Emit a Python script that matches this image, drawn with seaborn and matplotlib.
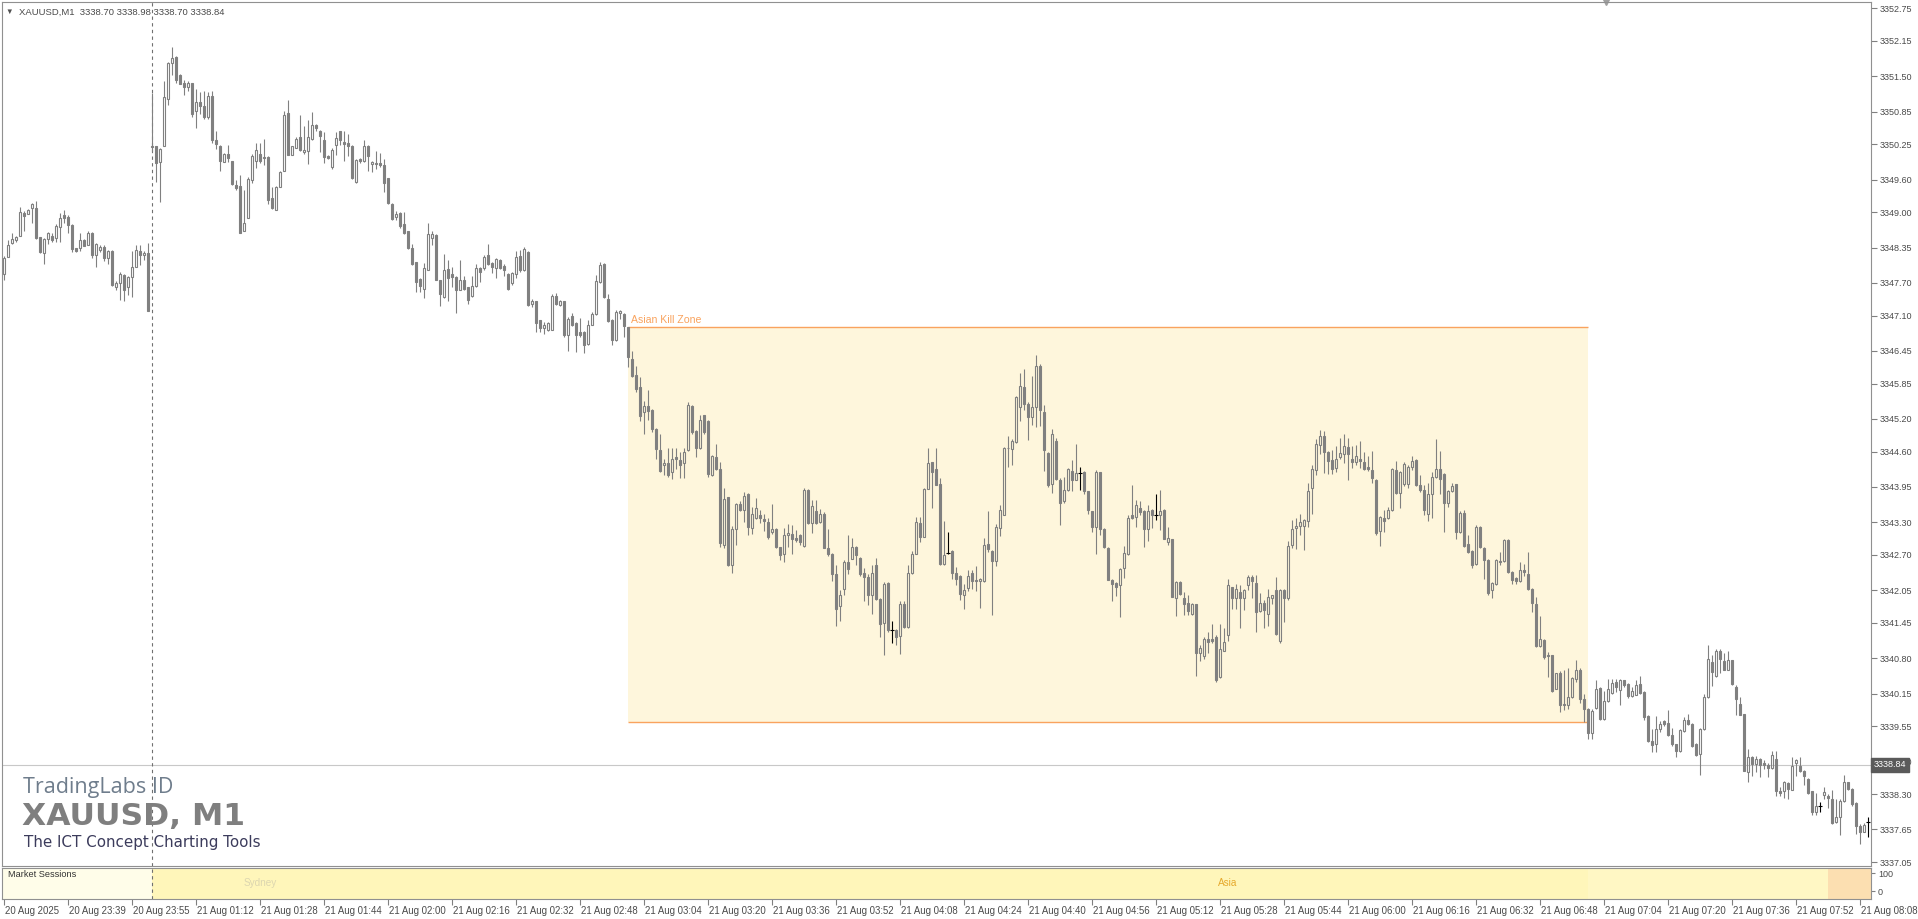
import numpy as np
import pandas as pd
import matplotlib
matplotlib.use('Agg')
import matplotlib.pyplot as plt
import matplotlib.transforms as mtransforms
import seaborn as sns

### XAUUSD M1 candles (one row of 10 bars per line)
opens = [
    3347.86, 3348.17, 3348.44, 3348.49, 3348.57, 3348.99, 3348.97, 3349.07, 3349.07, 3348.54,
    3348.25, 3348.51, 3348.57, 3348.52, 3348.73, 3348.94, 3348.92, 3348.77, 3348.34, 3348.35,
    3348.49, 3348.40, 3348.62, 3348.22, 3348.30, 3348.36, 3348.16, 3348.29, 3347.62, 3347.70,
    3347.84, 3347.63, 3347.80, 3348.00, 3348.28, 3348.22, 3348.25, 3350.22, 3350.21, 3349.92,
    3350.21, 3351.09, 3351.75, 3351.85, 3351.53, 3351.38, 3351.31, 3351.37, 3350.86, 3351.03,
    3350.95, 3350.75, 3351.13, 3350.32, 3350.21, 3349.92, 3350.08, 3349.94, 3349.51, 3349.49,
    3348.66, 3348.89, 3349.59, 3349.95, 3350.08, 3350.02, 3350.02, 3349.26, 3349.05, 3349.47,
    3349.75, 3350.82, 3350.05, 3350.19, 3350.38, 3350.10, 3350.13, 3350.35, 3350.61, 3350.50,
    3350.32, 3350.03, 3349.83, 3350.24, 3350.49, 3350.29, 3350.27, 3350.22, 3349.56, 3349.97,
    3349.94, 3350.22, 3349.88, 3349.91, 3349.90, 3349.86, 3349.63, 3349.16, 3348.91, 3348.99,
    3348.78, 3348.65, 3348.35, 3348.08, 3347.78, 3347.59, 3347.94, 3348.52, 3348.59, 3347.75,
    3347.45, 3347.96, 3347.86, 3347.80, 3347.57, 3347.76, 3347.62, 3347.46, 3347.65, 3347.98,
    3347.97, 3348.21, 3348.06, 3347.98, 3348.13, 3348.01, 3347.86, 3347.70, 3347.86, 3348.19,
    3347.94, 3348.26, 3347.31, 3347.36, 3347.01, 3346.87, 3346.83, 3346.83, 3347.46, 3347.30,
    3347.36, 3346.74, 3347.09, 3346.97, 3346.79, 3346.79, 3346.57, 3346.93, 3347.13, 3347.71,
    3348.05, 3347.41, 3347.02, 3346.65, 3347.14, 3347.13, 3346.89, 3346.30, 3346.00, 3345.78,
    3345.33, 3345.44, 3345.36, 3345.01, 3344.63, 3344.35, 3344.39, 3344.23, 3344.50, 3344.44,
    3344.39, 3344.62, 3345.44, 3344.98, 3344.66, 3345.27, 3345.16, 3344.17, 3344.49, 3344.28,
    3342.88, 3343.76, 3342.51, 3343.17, 3343.64, 3343.52, 3343.81, 3343.20, 3343.37, 3343.44,
    3343.36, 3343.31, 3343.12, 3343.17, 3342.84, 3342.71, 3343.07, 3343.09, 3343.01, 3343.07,
    3342.86, 3343.89, 3343.28, 3343.50, 3343.31, 3343.46, 3342.83, 3342.72, 3342.34, 3341.76,
    3342.07, 3342.57, 3342.63, 3342.84, 3342.64, 3342.36, 3342.29, 3341.96, 3342.51, 3341.88,
    3341.45, 3342.19, 3341.31, 3341.31, 3341.21, 3341.80, 3341.37, 3342.36, 3342.72, 3343.28,
    3343.03, 3343.91, 3344.40, 3344.28, 3344.01, 3342.53, 3342.74, 3342.77, 3342.37, 3342.31,
    3341.96, 3342.09, 3342.37, 3342.24, 3342.22, 3342.22, 3342.90, 3342.77, 3342.58, 3343.20,
    3343.44, 3344.66, 3344.65, 3344.77, 3345.41, 3345.79, 3345.48, 3345.24, 3345.41, 3346.17,
    3345.33, 3344.58, 3344.01, 3344.79, 3344.08, 3343.69, 3343.89, 3344.24, 3344.08, 3344.20,
    3344.23, 3343.87, 3343.50, 3343.21, 3344.22, 3343.17, 3342.83, 3342.24, 3342.18, 3342.14,
    3342.45, 3342.71, 3343.43, 3343.39, 3343.57, 3343.50, 3343.17, 3343.52, 3343.43, 3343.43,
    3343.52, 3342.93, 3342.99, 3341.91, 3342.20, 3341.90, 3341.81, 3341.62, 3341.79, 3340.90,
    3340.84, 3341.15, 3341.15, 3341.19, 3340.45, 3340.94, 3341.22, 3342.10, 3341.91, 3342.02,
    3341.91, 3342.14, 3342.30, 3342.18, 3341.67, 3341.82, 3341.62, 3341.90, 3342.05, 3341.11,
    3342.05, 3341.90, 3342.88, 3343.19, 3343.23, 3343.23, 3343.32, 3343.93, 3344.26, 3344.72,
    3344.89, 3344.60, 3344.44, 3344.29, 3344.49, 3344.55, 3344.68, 3344.46, 3344.41, 3344.46,
    3344.41, 3344.31, 3344.26, 3344.08, 3343.14, 3343.37, 3343.37, 3343.52, 3344.26, 3343.83,
    3344.00, 3344.00, 3344.31, 3344.44, 3343.98, 3343.89, 3343.46, 3343.82, 3344.14, 3344.28,
    3344.18, 3343.66, 3343.87, 3344.00, 3343.12, 3343.47, 3342.90, 3342.77, 3342.54, 3343.22,
    3342.83, 3342.60, 3342.05, 3342.17, 3342.58, 3342.58, 3342.98, 3342.39, 3342.28, 3342.22,
    3342.42, 3342.34, 3342.07, 3341.80, 3341.02, 3341.13, 3340.86, 3340.85, 3340.24, 3340.53,
    3339.96, 3339.93, 3340.08, 3340.42, 3340.59, 3340.04, 3339.86, 3339.43, 3339.88, 3340.25,
    3339.69, 3340.01, 3340.16, 3340.36, 3340.21, 3340.39, 3340.33, 3340.10, 3340.13, 3340.33,
    3340.18, 3339.73, 3339.28, 3339.23, 3339.50, 3339.64, 3339.61, 3339.38, 3339.22, 3339.10,
    3339.46, 3339.67, 3339.59, 3339.23, 3339.04, 3339.49, 3340.08, 3340.73, 3340.48, 3340.94,
    3340.75, 3340.59, 3340.76, 3340.27, 3339.96, 3339.77, 3338.70, 3338.98, 3338.85, 3338.94,
    3338.87, 3338.84, 3338.78, 3338.94, 3338.35, 3338.35, 3338.51, 3338.38, 3338.87, 3338.81,
    3338.73, 3338.58, 3338.35, 3337.97, 3338.08, 3338.29, 3338.27, 3338.21, 3337.78, 3337.87,
    3338.18, 3338.52, 3338.40, 3338.13, 3337.71, 3337.61, 3337.78,
]
highs = [
    3348.19, 3348.49, 3348.62, 3348.57, 3349.09, 3349.02, 3349.06, 3349.17, 3349.21, 3348.55,
    3348.52, 3348.63, 3348.61, 3348.78, 3348.98, 3349.05, 3348.95, 3348.78, 3348.35, 3348.61,
    3348.51, 3348.66, 3348.63, 3348.44, 3348.40, 3348.40, 3348.31, 3348.30, 3347.73, 3347.91,
    3347.86, 3347.82, 3348.28, 3348.40, 3348.40, 3348.28, 3348.43, 3351.19, 3350.22, 3350.18,
    3351.42, 3351.77, 3352.04, 3351.87, 3351.54, 3351.44, 3351.41, 3351.38, 3351.27, 3351.21,
    3351.23, 3351.21, 3351.23, 3350.50, 3350.23, 3350.09, 3350.23, 3349.95, 3349.60, 3349.69,
    3349.41, 3349.64, 3350.07, 3350.27, 3350.28, 3350.35, 3350.03, 3349.46, 3349.48, 3349.75,
    3350.87, 3351.07, 3350.22, 3350.38, 3350.78, 3350.58, 3350.70, 3350.85, 3350.62, 3350.52,
    3350.48, 3350.05, 3350.18, 3350.48, 3350.50, 3350.50, 3350.43, 3350.24, 3349.97, 3349.99,
    3350.32, 3350.24, 3349.95, 3350.13, 3350.09, 3349.97, 3349.63, 3349.17, 3349.03, 3349.00,
    3349.00, 3348.66, 3348.42, 3348.09, 3347.79, 3348.06, 3348.81, 3348.65, 3348.60, 3347.76,
    3348.23, 3348.13, 3348.00, 3347.82, 3348.13, 3347.82, 3347.63, 3347.82, 3348.05, 3348.00,
    3348.22, 3348.42, 3348.08, 3348.16, 3348.14, 3348.05, 3347.88, 3347.91, 3348.29, 3348.31,
    3348.36, 3348.28, 3347.41, 3347.37, 3347.02, 3346.98, 3346.99, 3347.49, 3347.51, 3347.39,
    3347.37, 3347.08, 3347.14, 3346.99, 3347.05, 3346.81, 3347.02, 3347.17, 3347.84, 3348.08,
    3348.06, 3347.50, 3347.04, 3347.21, 3347.21, 3347.14, 3346.89, 3346.44, 3346.18, 3345.97,
    3345.52, 3345.73, 3345.39, 3345.03, 3344.93, 3344.47, 3344.66, 3344.66, 3344.66, 3344.60,
    3344.66, 3345.51, 3345.46, 3345.00, 3345.28, 3345.28, 3345.18, 3344.54, 3344.74, 3344.40,
    3343.93, 3343.77, 3343.23, 3343.66, 3343.69, 3343.86, 3343.83, 3343.58, 3343.75, 3343.52,
    3343.46, 3343.37, 3343.64, 3343.20, 3342.85, 3343.20, 3343.26, 3343.25, 3343.15, 3343.09,
    3343.92, 3343.91, 3343.71, 3343.71, 3343.55, 3343.49, 3343.18, 3342.74, 3342.51, 3342.05,
    3342.60, 3343.06, 3343.01, 3342.87, 3342.66, 3342.45, 3342.34, 3342.51, 3342.64, 3341.90,
    3342.20, 3342.20, 3341.48, 3341.34, 3341.86, 3341.85, 3342.52, 3342.77, 3343.39, 3343.40,
    3343.92, 3344.66, 3344.41, 3344.66, 3344.12, 3343.32, 3343.12, 3342.79, 3342.48, 3342.33,
    3342.17, 3342.42, 3342.42, 3342.50, 3342.28, 3343.01, 3343.51, 3342.79, 3343.26, 3343.61,
    3344.69, 3344.89, 3344.83, 3345.62, 3346.05, 3346.12, 3345.51, 3345.98, 3346.38, 3346.21,
    3345.46, 3344.60, 3345.01, 3344.84, 3344.11, 3344.14, 3344.29, 3344.44, 3344.74, 3344.31,
    3344.24, 3343.88, 3343.51, 3344.26, 3344.23, 3343.19, 3342.84, 3342.25, 3342.20, 3342.46,
    3342.87, 3343.44, 3343.98, 3343.71, 3343.69, 3343.52, 3343.61, 3343.54, 3343.81, 3343.90,
    3343.54, 3343.22, 3343.00, 3342.22, 3342.22, 3342.01, 3341.96, 3341.82, 3341.80, 3341.04,
    3341.19, 3341.29, 3341.43, 3341.22, 3341.43, 3341.36, 3342.25, 3342.11, 3342.17, 3342.15,
    3342.07, 3342.33, 3342.33, 3342.33, 3342.00, 3341.87, 3342.08, 3341.97, 3342.30, 3342.08,
    3342.08, 3342.95, 3343.34, 3343.38, 3343.46, 3343.36, 3344.03, 3344.35, 3344.83, 3344.99,
    3344.98, 3344.61, 3344.63, 3344.71, 3344.84, 3344.92, 3344.84, 3344.71, 3344.72, 3344.79,
    3344.60, 3344.51, 3344.61, 3344.09, 3343.41, 3343.52, 3343.58, 3344.29, 3344.43, 3344.24,
    3344.40, 3344.36, 3344.51, 3344.46, 3344.17, 3343.98, 3344.03, 3344.22, 3344.83, 3344.61,
    3344.20, 3343.89, 3344.03, 3344.01, 3343.50, 3343.52, 3343.06, 3342.78, 3343.25, 3343.23,
    3342.84, 3342.62, 3342.20, 3342.63, 3342.76, 3343.00, 3342.99, 3342.40, 3342.30, 3342.56,
    3342.54, 3342.76, 3342.09, 3341.93, 3341.58, 3341.15, 3340.91, 3340.86, 3340.53, 3340.56,
    3340.59, 3340.61, 3340.45, 3340.76, 3340.61, 3340.15, 3339.88, 3339.86, 3340.39, 3340.27,
    3340.19, 3340.42, 3340.42, 3340.42, 3340.42, 3340.40, 3340.34, 3340.27, 3340.39, 3340.47,
    3340.19, 3339.75, 3339.50, 3339.74, 3339.64, 3339.66, 3339.84, 3339.51, 3339.23, 3339.50,
    3339.72, 3339.78, 3339.60, 3339.24, 3339.51, 3340.15, 3341.05, 3340.85, 3340.96, 3340.97,
    3340.90, 3340.94, 3340.77, 3340.31, 3340.09, 3339.78, 3339.13, 3339.00, 3339.00, 3338.96,
    3338.92, 3338.87, 3339.10, 3339.10, 3338.43, 3338.55, 3338.53, 3338.99, 3338.95, 3338.98,
    3338.75, 3338.59, 3338.36, 3338.32, 3338.15, 3338.43, 3338.30, 3338.37, 3338.21, 3338.21,
    3338.65, 3338.53, 3338.41, 3338.15, 3337.75, 3337.77, 3337.87,
]
lows = [
    3347.76, 3348.17, 3348.41, 3348.45, 3348.57, 3348.65, 3348.97, 3348.80, 3348.50, 3348.25,
    3348.05, 3348.41, 3348.45, 3348.45, 3348.45, 3348.81, 3348.62, 3348.27, 3348.27, 3348.28,
    3348.37, 3348.40, 3348.16, 3347.99, 3348.27, 3348.11, 3348.05, 3347.65, 3347.57, 3347.39,
    3347.37, 3347.48, 3347.45, 3348.00, 3348.03, 3348.12, 3347.19, 3350.12, 3349.56, 3349.19,
    3350.21, 3350.98, 3351.53, 3351.38, 3351.35, 3351.15, 3351.23, 3350.76, 3350.54, 3350.81,
    3350.72, 3350.72, 3350.27, 3350.17, 3349.76, 3349.92, 3349.92, 3349.51, 3349.41, 3348.62,
    3348.66, 3348.89, 3349.54, 3349.81, 3349.90, 3349.87, 3349.15, 3349.06, 3349.05, 3349.47,
    3349.75, 3350.05, 3350.05, 3350.18, 3350.12, 3350.08, 3349.89, 3350.33, 3350.49, 3350.11,
    3349.91, 3349.97, 3349.80, 3350.05, 3350.24, 3349.95, 3350.03, 3349.62, 3349.54, 3349.91,
    3349.92, 3349.75, 3349.74, 3349.80, 3349.83, 3349.37, 3349.15, 3348.86, 3348.86, 3348.71,
    3348.60, 3348.33, 3348.03, 3347.53, 3347.54, 3347.42, 3347.94, 3348.40, 3347.75, 3347.28,
    3347.42, 3347.36, 3347.62, 3347.14, 3347.57, 3347.57, 3347.31, 3347.45, 3347.62, 3347.71,
    3347.94, 3348.03, 3347.88, 3347.79, 3347.96, 3347.83, 3347.57, 3347.67, 3347.79, 3347.91,
    3347.92, 3347.28, 3347.25, 3346.79, 3346.79, 3346.76, 3346.81, 3346.83, 3347.30, 3347.28,
    3346.71, 3346.45, 3346.90, 3346.43, 3346.71, 3346.41, 3346.56, 3346.93, 3347.11, 3347.70,
    3347.43, 3346.99, 3346.56, 3346.63, 3347.04, 3346.70, 3346.16, 3345.97, 3345.70, 3345.16,
    3344.93, 3345.18, 3344.96, 3344.47, 3344.23, 3344.17, 3344.14, 3344.09, 3344.28, 3344.11,
    3344.12, 3344.61, 3344.93, 3344.49, 3344.65, 3344.93, 3344.14, 3344.15, 3344.26, 3342.85,
    3342.82, 3342.50, 3342.36, 3342.88, 3343.50, 3343.30, 3343.07, 3343.09, 3343.36, 3343.28,
    3343.14, 3343.00, 3343.09, 3342.82, 3342.60, 3342.57, 3342.85, 3342.71, 3342.94, 3342.88,
    3342.85, 3343.26, 3343.11, 3343.26, 3343.29, 3342.82, 3342.68, 3342.21, 3341.40, 3341.48,
    3341.96, 3342.34, 3342.62, 3342.51, 3342.31, 3341.85, 3341.77, 3341.62, 3341.87, 3341.19,
    3340.85, 3341.28, 3341.07, 3341.05, 3340.88, 3341.36, 3341.36, 3342.34, 3342.71, 3342.94,
    3343.02, 3343.91, 3343.57, 3343.98, 3342.51, 3342.52, 3342.71, 3342.26, 3342.14, 3341.87,
    3341.70, 3342.03, 3342.08, 3342.03, 3341.72, 3342.20, 3342.76, 3341.60, 3342.50, 3343.05,
    3343.43, 3344.32, 3344.36, 3344.76, 3345.17, 3345.36, 3344.81, 3345.08, 3345.05, 3345.06,
    3344.24, 3343.95, 3343.83, 3344.07, 3343.25, 3343.65, 3343.87, 3343.87, 3344.07, 3343.90,
    3343.81, 3343.46, 3343.12, 3342.72, 3343.07, 3342.83, 3342.23, 3341.86, 3341.95, 3341.56,
    3342.28, 3342.69, 3343.36, 3343.22, 3343.43, 3342.85, 3342.95, 3343.19, 3343.34, 3343.16,
    3342.99, 3342.88, 3341.93, 3341.57, 3341.96, 3341.59, 3341.59, 3341.59, 3340.48, 3340.74,
    3340.78, 3340.90, 3341.08, 3340.37, 3340.44, 3340.93, 3341.12, 3341.71, 3341.71, 3341.36,
    3341.68, 3342.05, 3341.91, 3341.28, 3341.65, 3341.36, 3341.39, 3341.79, 3341.22, 3341.07,
    3341.47, 3341.87, 3342.83, 3342.80, 3343.07, 3342.79, 3343.22, 3343.46, 3344.17, 3344.55,
    3344.20, 3344.18, 3344.18, 3344.23, 3344.47, 3344.38, 3344.07, 3344.29, 3344.35, 3344.29,
    3344.26, 3344.24, 3344.03, 3343.07, 3342.87, 3343.12, 3343.36, 3343.50, 3343.81, 3343.57,
    3343.97, 3343.93, 3344.26, 3343.97, 3343.86, 3343.44, 3343.32, 3343.37, 3344.12, 3343.81,
    3343.12, 3343.58, 3343.86, 3343.00, 3343.11, 3342.85, 3342.74, 3342.45, 3342.52, 3342.83,
    3342.25, 3341.97, 3341.90, 3342.15, 3342.52, 3342.57, 3342.36, 3342.17, 3342.17, 3342.20,
    3342.31, 3342.06, 3341.65, 3341.01, 3341.01, 3340.78, 3340.45, 3340.18, 3340.23, 3339.81,
    3339.84, 3339.86, 3340.07, 3340.37, 3339.98, 3339.63, 3339.32, 3339.32, 3339.87, 3339.67,
    3339.67, 3340.00, 3340.14, 3340.18, 3339.94, 3340.27, 3340.07, 3340.08, 3340.12, 3340.15,
    3339.67, 3339.26, 3339.08, 3339.08, 3339.44, 3339.55, 3339.37, 3339.19, 3338.98, 3339.08,
    3339.45, 3339.58, 3339.16, 3339.00, 3338.66, 3339.47, 3340.07, 3340.29, 3340.45, 3340.52,
    3340.58, 3340.58, 3340.31, 3339.76, 3339.75, 3338.72, 3338.53, 3338.64, 3338.70, 3338.61,
    3338.77, 3338.61, 3338.77, 3338.27, 3338.27, 3338.22, 3338.21, 3338.37, 3338.64, 3338.70,
    3338.46, 3338.30, 3337.92, 3337.92, 3337.97, 3338.21, 3338.04, 3337.75, 3337.77, 3337.54,
    3338.16, 3338.37, 3338.09, 3337.57, 3337.38, 3337.60, 3337.51,
]
closes = [
    3348.16, 3348.40, 3348.51, 3348.54, 3349.01, 3348.93, 3349.05, 3349.16, 3348.52, 3348.27,
    3348.51, 3348.61, 3348.49, 3348.74, 3348.90, 3348.89, 3348.77, 3348.32, 3348.28, 3348.49,
    3348.38, 3348.62, 3348.21, 3348.42, 3348.36, 3348.16, 3348.29, 3347.67, 3347.69, 3347.87,
    3347.57, 3347.80, 3348.00, 3348.30, 3348.22, 3348.25, 3347.19, 3350.20, 3349.91, 3350.17,
    3351.12, 3351.75, 3351.83, 3351.44, 3351.36, 3351.30, 3351.37, 3350.80, 3351.03, 3350.95,
    3350.75, 3351.13, 3350.33, 3350.26, 3349.94, 3350.08, 3350.00, 3349.52, 3349.44, 3348.62,
    3348.81, 3349.62, 3350.03, 3350.15, 3349.95, 3350.00, 3349.22, 3349.07, 3349.47, 3349.74,
    3350.78, 3350.06, 3350.21, 3350.35, 3350.15, 3350.14, 3350.38, 3350.61, 3350.54, 3350.40,
    3350.02, 3349.99, 3350.14, 3350.37, 3350.32, 3350.26, 3350.21, 3349.63, 3349.96, 3349.94,
    3350.21, 3350.03, 3349.93, 3349.88, 3349.87, 3349.54, 3349.17, 3348.88, 3348.97, 3348.74,
    3348.62, 3348.34, 3348.05, 3347.71, 3347.65, 3347.98, 3348.60, 3348.60, 3347.75, 3347.49,
    3347.94, 3347.79, 3347.80, 3347.57, 3347.76, 3347.59, 3347.38, 3347.65, 3347.98, 3347.90,
    3348.17, 3348.05, 3347.99, 3348.14, 3347.98, 3347.94, 3347.59, 3347.89, 3348.18, 3347.94,
    3348.33, 3347.30, 3347.37, 3346.96, 3346.87, 3346.93, 3346.97, 3347.46, 3347.31, 3347.36,
    3346.74, 3347.04, 3346.93, 3346.74, 3346.74, 3346.56, 3346.93, 3347.13, 3347.73, 3348.03,
    3347.44, 3347.00, 3346.65, 3347.17, 3347.19, 3346.91, 3346.33, 3345.98, 3345.75, 3345.25,
    3345.44, 3345.35, 3345.01, 3344.65, 3344.24, 3344.39, 3344.17, 3344.47, 3344.46, 3344.36,
    3344.60, 3345.46, 3344.95, 3344.66, 3345.18, 3344.96, 3344.18, 3344.52, 3344.28, 3342.91,
    3343.72, 3342.51, 3343.17, 3343.64, 3343.52, 3343.78, 3343.22, 3343.46, 3343.57, 3343.37,
    3343.32, 3343.03, 3343.17, 3342.84, 3342.69, 3343.07, 3343.11, 3342.99, 3342.97, 3342.94,
    3343.89, 3343.28, 3343.60, 3343.28, 3343.45, 3342.83, 3342.71, 3342.34, 3341.70, 3341.97,
    3342.57, 3342.44, 3342.84, 3342.69, 3342.34, 3342.29, 3341.96, 3342.36, 3341.88, 3341.42,
    3342.17, 3341.31, 3341.31, 3341.19, 3341.80, 3341.37, 3342.36, 3342.72, 3343.31, 3343.03,
    3343.91, 3344.38, 3344.23, 3343.99, 3342.54, 3342.69, 3342.74, 3342.36, 3342.26, 3341.98,
    3342.05, 3342.31, 3342.22, 3342.22, 3342.26, 3342.88, 3342.80, 3342.58, 3343.21, 3343.52,
    3344.67, 3344.67, 3344.79, 3345.60, 3345.81, 3345.47, 3345.24, 3345.41, 3346.17, 3345.37,
    3344.63, 3343.98, 3344.92, 3344.09, 3343.66, 3343.89, 3344.28, 3344.08, 3344.21, 3344.20,
    3343.87, 3343.52, 3343.21, 3344.22, 3343.17, 3342.84, 3342.23, 3342.17, 3342.10, 3342.44,
    3342.74, 3343.38, 3343.37, 3343.61, 3343.49, 3343.17, 3343.50, 3343.44, 3343.43, 3343.50,
    3343.00, 3343.01, 3341.93, 3342.20, 3341.98, 3341.79, 3341.66, 3341.80, 3340.90, 3340.99,
    3341.15, 3341.09, 3341.12, 3340.40, 3340.96, 3341.10, 3342.14, 3341.91, 3342.07, 3341.91,
    3342.06, 3342.29, 3342.22, 3341.65, 3341.82, 3341.69, 3341.93, 3341.96, 3341.25, 3342.05,
    3341.90, 3342.86, 3343.17, 3343.23, 3343.31, 3343.34, 3343.87, 3344.28, 3344.73, 3344.89,
    3344.59, 3344.43, 3344.28, 3344.46, 3344.57, 3344.71, 3344.56, 3344.40, 3344.52, 3344.43,
    3344.28, 3344.28, 3344.11, 3343.11, 3343.39, 3343.33, 3343.52, 3344.27, 3343.83, 3344.22,
    3344.37, 3344.32, 3344.43, 3343.98, 3343.89, 3343.52, 3343.82, 3344.13, 3344.28, 3344.09,
    3343.65, 3343.87, 3343.97, 3343.12, 3343.47, 3342.87, 3342.76, 3342.52, 3343.22, 3342.84,
    3342.60, 3341.99, 3342.18, 3342.60, 3342.56, 3342.98, 3342.38, 3342.23, 3342.22, 3342.42,
    3342.39, 3342.07, 3341.82, 3341.02, 3341.16, 3340.83, 3340.84, 3340.19, 3340.52, 3339.93,
    3339.93, 3340.08, 3340.43, 3340.59, 3340.04, 3339.86, 3339.43, 3339.82, 3340.24, 3339.69,
    3340.02, 3340.23, 3340.35, 3340.27, 3340.39, 3340.31, 3340.10, 3340.19, 3340.31, 3340.16,
    3339.72, 3339.27, 3339.21, 3339.50, 3339.59, 3339.59, 3339.38, 3339.23, 3339.10, 3339.47,
    3339.67, 3339.59, 3339.19, 3339.02, 3339.49, 3340.08, 3340.78, 3340.55, 3340.94, 3340.79,
    3340.59, 3340.76, 3340.33, 3340.05, 3339.76, 3338.73, 3338.99, 3338.86, 3338.94, 3338.84,
    3338.83, 3338.78, 3339.01, 3338.35, 3338.32, 3338.53, 3338.40, 3338.81, 3338.92, 3338.73,
    3338.63, 3338.32, 3337.97, 3338.08, 3338.08, 3338.34, 3338.23, 3337.77, 3337.87, 3338.18,
    3338.52, 3338.40, 3338.12, 3337.71, 3337.60, 3337.73, 3337.78,
]

# current (unfinished) bar shown in the header, and the bid line
header_ohlc = [3338.70, 3338.98, 3338.70, 3338.84]
bid = 3338.84

# price scale labels shown on the right
y_ticks = [3352.75, 3352.15, 3351.50, 3350.85, 3350.25, 3349.60, 3349.00, 3348.35,
           3347.70, 3347.10, 3346.45, 3345.85, 3345.20, 3344.60, 3343.95, 3343.30,
           3342.70, 3342.05, 3341.45, 3340.80, 3340.15, 3339.55, 3338.90, 3338.30,
           3337.65, 3337.05]

# time scale, one label every 16 bars
x_tick_bars = [0, 16, 32, 48, 64, 80, 96, 112, 128, 144, 160, 176, 192, 208, 224,
               240, 256, 272, 288, 304, 320, 336, 352, 368, 384, 400, 416, 432, 448, 464]
x_tick_labels = ['20 Aug 2025', '20 Aug 23:39', '20 Aug 23:55', '21 Aug 01:12', '21 Aug 01:28',
                 '21 Aug 01:44', '21 Aug 02:00', '21 Aug 02:16', '21 Aug 02:32', '21 Aug 02:48',
                 '21 Aug 03:04', '21 Aug 03:20', '21 Aug 03:36', '21 Aug 03:52', '21 Aug 04:08',
                 '21 Aug 04:24', '21 Aug 04:40', '21 Aug 04:56', '21 Aug 05:12', '21 Aug 05:28',
                 '21 Aug 05:44', '21 Aug 06:00', '21 Aug 06:16', '21 Aug 06:32', '21 Aug 06:48',
                 '21 Aug 07:04', '21 Aug 07:20', '21 Aug 07:36', '21 Aug 07:52', '21 Aug 08:08']

day_break_bar = 37          # 21 Aug 01:00, first bar of the new day
kz_start, kz_end = 156, 396  # Asian kill zone 03:00 - 07:00

# market sessions sub window: (start bar, end bar, colour)
session_starts = [-1, 37, 396, 456]
session_ends = [37, 396, 456, 468]
session_colors = ['#FFFDE9', '#FFF6BA', '#FFF7C4', '#FCDFB1']
session_names = ['Sydney', 'Asia']
session_label_bars = [64, 306]
session_label_colors = ['#DCD6B0', '#E6A92C']

CANDLE = '#808080'
TXT = '#4A4A4A'
FS = 6.9

sns.set_theme(style='white')
plt.rcParams['font.family'] = ['Liberation Sans', 'DejaVu Sans']

W, H = 1918, 919
def fx(px):
    return px / W
def fy(py):
    return 1 - py / H

fig = plt.figure(figsize=(W / 100, H / 100), dpi=100, facecolor='white')
ax = fig.add_axes([fx(2), fy(866), fx(1871) - fx(2), fy(2) - fy(866)])
ax2 = fig.add_axes([fx(2), fy(899), fx(1871) - fx(2), fy(868) - fy(899)])

o = np.array(opens); h = np.array(highs); l = np.array(lows); c = np.array(closes)
x = np.arange(len(o))
top = np.maximum(o, c)
bot = np.minimum(o, c)
bull = c > o
bear = c < o
doji = c == o

# kill zone box, top/bottom from the bars inside it
kz_high = h[kz_start:kz_end].max()
kz_low = l[kz_start:kz_end].min()
ax.fill_between([kz_start, kz_end], kz_low, kz_high, color='#FEF6DC', lw=0, zorder=0)
ax.hlines([kz_high, kz_low], kz_start, kz_end, color='#F9A35E', lw=1.0, zorder=1)
ax.annotate('Asian Kill Zone', (kz_start, kz_high), xytext=(3, 2), textcoords='offset pixels',
            color='#F9A35E', fontsize=7.6, ha='left', va='bottom')

# bid line
ax.axhline(bid, color='#C8C8C8', lw=0.8, zorder=0.5)

# day separator
ax.axvline(day_break_bar, color='#707070', lw=0.8, ls=(0, (3, 3)), zorder=0.6)
ax2.axvline(day_break_bar, color='#707070', lw=0.8, ls=(0, (3, 3)), zorder=3)

# candles: wicks above and below the body, bodies, doji crosses
nd = ~doji
ax.vlines(x[nd], top[nd], h[nd], color=CANDLE, lw=0.8, zorder=2)
ax.vlines(x[nd], l[nd], bot[nd], color=CANDLE, lw=0.8, zorder=2)
ax.bar(x[bear], top[bear] - bot[bear], bottom=bot[bear], width=0.5,
       color=CANDLE, edgecolor=CANDLE, lw=0.8, zorder=3)
ax.bar(x[bull], top[bull] - bot[bull], bottom=bot[bull], width=0.5,
       facecolor='none', edgecolor=CANDLE, lw=0.8, zorder=3)
ax.vlines(x[doji], l[doji], h[doji], color='black', lw=0.8, zorder=3)
ax.hlines(o[doji], x[doji] - 0.4, x[doji] + 0.4, color='black', lw=0.8, zorder=3)

ax.set_xlim(-0.5, 466.75)
ax.set_ylim(3336.978, 3352.866)
ax.set_xticks([])
ax.yaxis.tick_right()
ax.set_yticks(y_ticks)
ax.set_yticklabels(['%.2f' % v for v in y_ticks])
ax.tick_params(axis='y', direction='out', length=4, width=0.8, color='#808080',
               labelcolor=TXT, labelsize=6.5, pad=2, right=True, left=False)
for s in ax.spines.values():
    s.set_color('#909090')
    s.set_linewidth(0.8)
ax.set_facecolor('white')

# bid marker on the price scale
ax.annotate('%.2f' % bid, (1.0, bid), xycoords=mtransforms.blended_transform_factory(ax.transAxes, ax.transData),
            xytext=(3, 0), textcoords='offset pixels', ha='left', va='center', fontsize=6.5, color='white',
            bbox=dict(boxstyle='square,pad=0.3', fc='#5A5A5A', ec='#5A5A5A'), zorder=10, annotation_clip=False)

# chart shift marker
ax.plot([400.5], [1.0], marker='v', ms=5, color='#A0A0A0', clip_on=False,
        transform=mtransforms.blended_transform_factory(ax.transData, ax.transAxes))

# sessions sub window
for s0, s1, col in zip(session_starts, session_ends, session_colors):
    ax2.axvspan(s0, s1, color=col, lw=0, zorder=0)
for name, b, col in zip(session_names, session_label_bars, session_label_colors):
    ax2.text(b, 42, name, color=col, fontsize=7.2, ha='center', va='center')
ax2.set_xlim(-0.5, 466.75)
ax2.set_ylim(-44, 128)
ax2.yaxis.tick_right()
ax2.set_yticks([0, 100])
ax2.set_yticklabels(['0', '100'])
ax2.tick_params(axis='y', direction='out', length=3, width=0.8, color='#808080',
                labelcolor=TXT, labelsize=6.5, pad=2, right=True, left=False)
ax2.set_xticks(x_tick_bars)
ax2.set_xticklabels(x_tick_labels)
ax2.tick_params(axis='x', direction='out', length=4, width=0.8, color='#808080',
                labelcolor=TXT, labelsize=FS, pad=1, bottom=True)
shift = mtransforms.ScaledTranslation(1 / 100, 0, fig.dpi_scale_trans)
for lab in ax2.get_xticklabels():
    lab.set_ha('left')
    lab.set_transform(lab.get_transform() + shift)
for s in ax2.spines.values():
    s.set_color('#909090')
    s.set_linewidth(0.8)
ax2.text(0.003, 0.78, 'Market Sessions', transform=ax2.transAxes, fontsize=6.6, color='#333333',
         ha='left', va='center')

# header
fig.text(fx(5), fy(12), '\u25BC', fontsize=5.5, color='#505050', va='center')
fig.text(fx(19), fy(12), 'XAUUSD,M1  ' + ' '.join('%.2f' % v for v in header_ohlc),
         fontsize=6.8, color=TXT, va='center')

# watermark
fig.text(fx(23), fy(793), 'TradingLabs ID', fontsize=15.5, color='#6F7D8C', family='Open Sans', va='baseline')
fig.text(fx(22), fy(825), 'XAUUSD, M1', fontsize=22.6, weight='bold', color='#7F7F7F',
         family='DejaVu Sans', va='baseline')
fig.text(fx(24), fy(847), 'The ICT Concept Charting Tools', fontsize=10.9, color='#3C3C5C',
         family='DejaVu Sans', va='baseline')

fig.savefig('out.png', dpi=100, facecolor='white')
